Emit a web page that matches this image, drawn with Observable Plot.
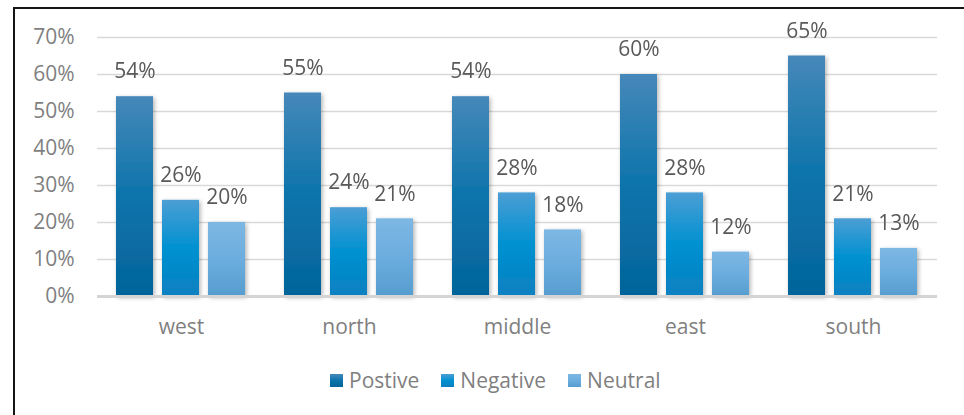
<!DOCTYPE html>
<html>
<head>
<meta charset="utf-8">
<script src="https://cdn.jsdelivr.net/npm/d3@7"></script>
<script src="https://cdn.jsdelivr.net/npm/@observablehq/plot@0.6"></script>
<style>
  html, body { margin: 0; padding: 0; background: #fff; overflow: hidden; }
  body { width: 964px; height: 415px; position: relative; font-family: "Open Sans", sans-serif; }
  #frame { position: absolute; left: 13px; top: 7px; width: 2000px; height: 2000px;
           border-left: 2px solid #151515; border-top: 2px solid #151515; pointer-events: none; }
  #chart { position: absolute; left: 0; top: 0; }
  #legend { position: absolute; left: 330px; top: 368px; height: 24px; display: flex; align-items: center;
            font-size: 21px; color: #7f7f7f; white-space: nowrap; }
  .item { display: flex; align-items: center; margin-right: 22px; }
  .sw { width: 13px; height: 13px; margin-right: 6px; }
</style>
</head>
<body>
<div id="chart"></div>
<div id="legend"></div>
<div id="frame"></div>
<script>
const regions = ["west", "north", "middle", "east", "south"];
const series = ["Postive", "Negative", "Neutral"];
const postive = [0.54, 0.55, 0.54, 0.60, 0.65];
const negative = [0.26, 0.24, 0.28, 0.28, 0.21];
const neutral = [0.20, 0.21, 0.18, 0.12, 0.13];
const yTicks = [0, 0.1, 0.2, 0.3, 0.4, 0.5, 0.6, 0.7];

const seriesValues = [postive, negative, neutral];
const data = [];
regions.forEach((r, i) => {
  series.forEach((s, j) => data.push({region: r, series: s, value: seriesValues[j][i]}));
});

const gradIds = ["gPos", "gNeg", "gNeu"];
const gradStops = [
  ["#4688b9", "#0c74ab", "#04649a"],
  ["#4c9ed4", "#0091d1", "#0a80c0"],
  ["#7db7e4", "#6badde", "#569dcf"]
];

const pct = d => Math.round(d * 100) + "%";

const chart = Plot.plot({
  width: 964,
  height: 350,
  marginLeft: 95,
  marginRight: 26,
  marginTop: 37,
  marginBottom: 54,
  style: {fontFamily: "Open Sans", fontSize: "21px", color: "#7f7f7f", background: "transparent"},
  fx: {domain: regions, padding: 0, label: null, tickSize: 0, tickPadding: 23, axis: "bottom"},
  x: {domain: series, axis: null, paddingInner: 0.191, paddingOuter: 0.394},
  y: {domain: [0, 0.7], ticks: yTicks, tickFormat: pct, tickSize: 0, tickPadding: 23, label: null},
  color: {domain: series, range: gradIds.map(id => `url(#${id})`)},
  marks: [
    Plot.ruleY(yTicks.slice(1), {stroke: "#d9d9d9", strokeWidth: 1.5}),
    Plot.barY(data, {fx: "region", x: "series", y: "value", fill: "series"}),
    Plot.ruleY([0], {stroke: "#d4d4d4", strokeWidth: 3}),
    Plot.text(data, {fx: "region", x: "series", y: "value", text: d => pct(d.value), dy: -25,
                     fill: "#595959", fontSize: 21})
  ]
});

const svg = d3.select(chart);
const defs = svg.insert("defs", ":first-child");
gradIds.forEach((id, k) => {
  const g = defs.append("linearGradient").attr("id", id)
    .attr("x1", 0).attr("y1", 0).attr("x2", 0).attr("y2", 1);
  g.append("stop").attr("offset", "0%").attr("stop-color", gradStops[k][0]);
  g.append("stop").attr("offset", "50%").attr("stop-color", gradStops[k][1]);
  g.append("stop").attr("offset", "100%").attr("stop-color", gradStops[k][2]);
});
const f = defs.append("filter").attr("id", "shadow")
  .attr("x", "-30%").attr("y", "-10%").attr("width", "160%").attr("height", "130%");
f.append("feDropShadow").attr("dx", 1.5).attr("dy", 1.5).attr("stdDeviation", 2)
  .attr("flood-color", "#000").attr("flood-opacity", 0.3);
svg.selectAll('g[aria-label="bar"]').attr("filter", "url(#shadow)");

document.getElementById("chart").appendChild(chart);

const legend = d3.select("#legend");
series.forEach((s, k) => {
  const it = legend.append("div").attr("class", "item");
  it.append("div").attr("class", "sw")
    .style("background", `linear-gradient(${gradStops[k][0]}, ${gradStops[k][1]}, ${gradStops[k][2]})`);
  it.append("span").text(s);
});
</script>
</body>
</html>
